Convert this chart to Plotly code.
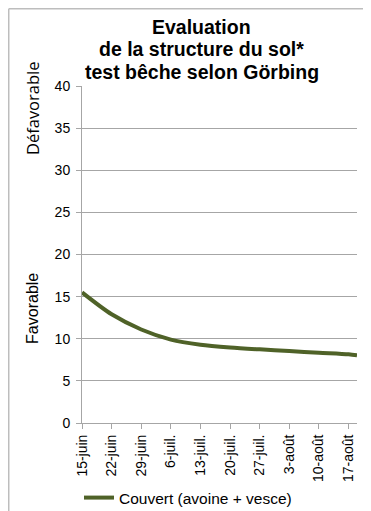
import plotly.graph_objects as go

# ---- data ----
dates = ["2013-06-15", "2013-06-22", "2013-06-29", "2013-07-06", "2013-07-13",
         "2013-07-20", "2013-07-27", "2013-08-03", "2013-08-10", "2013-08-17",
         "2013-08-19"]
values = [15.5, 12.9, 11.1, 9.9, 9.3, 8.97, 8.74, 8.54, 8.34, 8.15, 8.03]
series_name = "Couvert (avoine + vesce)"

tick_dates = ["2013-06-15", "2013-06-22", "2013-06-29", "2013-07-06", "2013-07-13",
              "2013-07-20", "2013-07-27", "2013-08-03", "2013-08-10", "2013-08-17"]
tick_labels = ["15-juin", "22-juin", "29-juin", "6-juil.", "13-juil.",
               "20-juil.", "27-juil.", "3-août", "10-août", "17-août"]

title_lines = ["Evaluation", "de la structure du sol*", "test bêche selon Görbing"]
y_labels = ["Défavorable", "Favorable"]

FONT = "Arial, Liberation Sans, sans-serif"
GRID = "#A6A6A6"

fig = go.Figure()
fig.add_trace(go.Scatter(
    x=dates, y=values, mode="lines", name=series_name,
    line=dict(color="#4F6228", width=4, shape="spline", smoothing=0.8),
))

fig.update_layout(
    template="none",
    width=363, height=503,
    margin=dict(l=74, r=14, t=78, b=88, autoexpand=False),
    paper_bgcolor="white", plot_bgcolor="white",
    font=dict(family=FONT, size=14, color="#000000"),
    showlegend=True,
    legend=dict(orientation="h", x=-0.011, y=-0.2226, xanchor="left", yanchor="middle",
                font=dict(size=15.5, family=FONT), itemwidth=30,
                bgcolor="rgba(0,0,0,0)"),
    xaxis=dict(
        type="date", range=["2013-06-15", "2013-08-19"], automargin=False,
        tickvals=tick_dates, ticktext=tick_labels, tickangle=-90,
        showgrid=False, showline=True, linecolor=GRID, linewidth=1,
        ticks="outside", ticklen=5, tickcolor=GRID,
        tickfont=dict(size=14, family=FONT),
    ),
    yaxis=dict(
        range=[0, 40], dtick=5, tick0=0, automargin=False,
        showgrid=True, gridcolor=GRID, gridwidth=1,
        showline=True, linecolor=GRID, linewidth=1,
        ticks="outside", ticklen=5, tickcolor=GRID, ticklabelstandoff=3,
        tickfont=dict(size=14, family=FONT), zeroline=False,
    ),
)

# Title lines
for txt, yy in zip(title_lines, [1.175, 1.110, 1.0415]):
    fig.add_annotation(text="<b>%s</b>" % txt, x=0.436, y=yy, xref="paper", yref="paper",
                       showarrow=False, xanchor="center", yanchor="middle",
                       font=dict(size=19.5, family=FONT, color="#000000"))

# Y side labels
fig.add_annotation(text=y_labels[0], x=-0.18, y=0.933, xref="paper", yref="paper",
                   showarrow=False, textangle=-90, xanchor="center", yanchor="middle",
                   font=dict(size=16.5, family="Open Sans, sans-serif", color="#000000"))
fig.add_annotation(text=y_labels[1], x=-0.18, y=0.34, xref="paper", yref="paper",
                   showarrow=False, textangle=-90, xanchor="center", yanchor="middle",
                   font=dict(size=16, family=FONT, color="#000000"))

# Chart-area border (left and top edges visible)
fig.add_shape(type="line", xref="paper", yref="paper", x0=-0.2664, x1=-0.2664,
              y0=-0.27, y1=1.2292, line=dict(color="#BDBDBD", width=1.5))
fig.add_shape(type="line", xref="paper", yref="paper", x0=-0.2664, x1=1.06,
              y0=1.2292, y1=1.2292, line=dict(color="#BDBDBD", width=1.5))

fig.write_html("out.html")
